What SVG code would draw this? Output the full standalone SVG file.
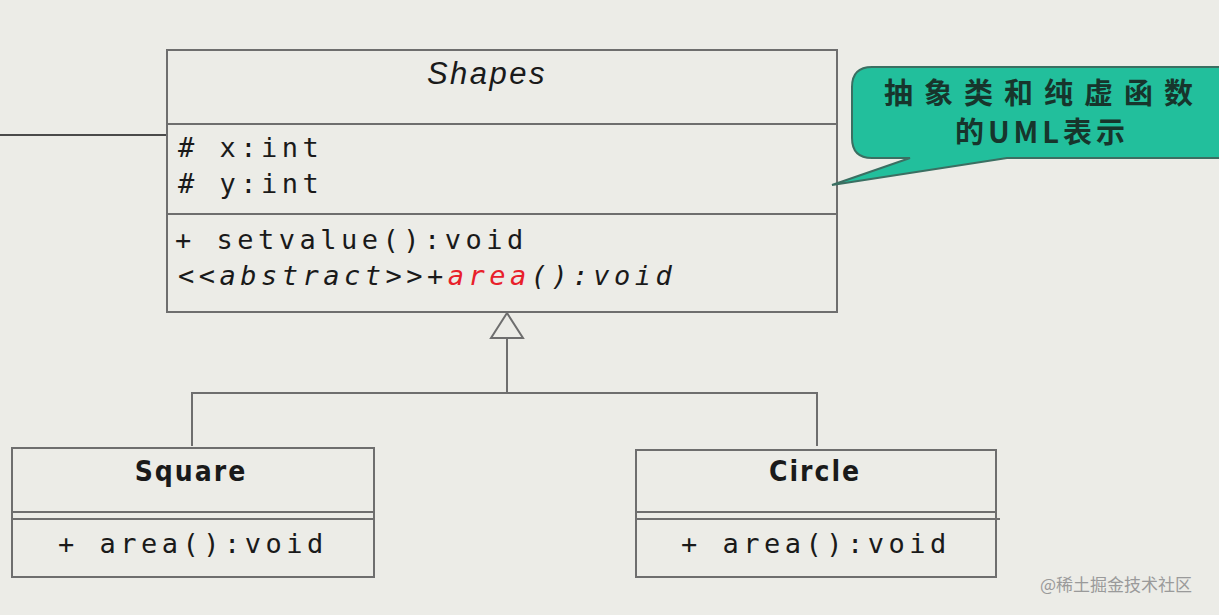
<svg xmlns="http://www.w3.org/2000/svg" width="1219" height="615" viewBox="0 0 1219 615">
<style>
.box{fill:#ecece7;stroke:#6e6e6e;stroke-width:2}
.ln{stroke:#6e6e6e;stroke-width:2;fill:none}
.mono{font-family:"DejaVu Sans Mono","Liberation Mono",monospace;font-size:27px;fill:#1a1a1a;letter-spacing:4.5px}
.cls{font-family:"DejaVu Sans Condensed","Liberation Sans",sans-serif;font-size:28px;font-weight:bold;fill:#1a1a1a;text-anchor:middle;letter-spacing:2px}
.cjk{font-family:"Noto Sans CJK SC",sans-serif;font-weight:bold;font-size:29px;fill:#17352c;text-anchor:middle}
</style>
<rect width="1219" height="615" fill="#ecece7"/>
<g id="connectors">
<line x1="0" y1="135" x2="167" y2="135" stroke="#4a4a4a" stroke-width="2"/>
<polygon points="507,313 491,338 523,338" fill="#ecece7" stroke="#6e6e6e" stroke-width="2"/>
<polyline class="ln" points="507,338 507,393"/>
<polyline class="ln" points="192,446 192,393 817,393 817,446"/>
</g>
<g id="shapes">
<rect class="box" x="167" y="50" width="670" height="262"/>
<line class="ln" x1="167" y1="124" x2="837" y2="124"/>
<line class="ln" x1="167" y1="214" x2="837" y2="214"/>
<text x="487" y="84" text-anchor="middle" font-family="Liberation Sans,sans-serif" font-style="italic" font-size="31" letter-spacing="2.5" fill="#1a1a1a">Shapes</text>
<text class="mono" x="178" y="157"># x:int</text>
<text class="mono" x="178" y="193"># y:int</text>
<text class="mono" x="175" y="249">+ setvalue():void</text>
<text class="mono" x="178" y="285" font-style="italic">&lt;&lt;abstract&gt;&gt;+<tspan fill="#e8202a">area</tspan>():void</text>
</g>
<g id="square">
<rect class="box" x="12" y="448" width="362" height="129"/>
<line class="ln" x1="12" y1="512" x2="374" y2="512"/>
<line class="ln" x1="12" y1="519" x2="374" y2="519"/>
<text class="cls" x="191" y="481">Square</text>
<text class="mono" x="58" y="553">+ area():void</text>
</g>
<g id="circle">
<rect class="box" x="636" y="450" width="360" height="127"/>
<line class="ln" x1="636" y1="512" x2="996" y2="512"/>
<line class="ln" x1="636" y1="519" x2="1000" y2="519"/>
<text class="cls" x="815" y="481">Circle</text>
<text class="mono" x="681" y="553">+ area():void</text>
</g>
<g id="callout">
<path d="M872,67 H1230 V158 H1007 L832,185 L910,158 H872 Q852,158 852,138 V87 Q852,67 872,67 Z" fill="#22bf9c" stroke="#3b6f62" stroke-width="2"/>
<text class="cjk" x="1044" y="104" letter-spacing="11">抽象类和纯虚函数</text>
<text class="cjk" x="1042" y="143" letter-spacing="4">的UML表示</text>
</g>
<text x="1040" y="591" font-family="Noto Sans CJK SC,sans-serif" font-size="17" fill="#9a9a9a">@稀土掘金技术社区</text>
</svg>
